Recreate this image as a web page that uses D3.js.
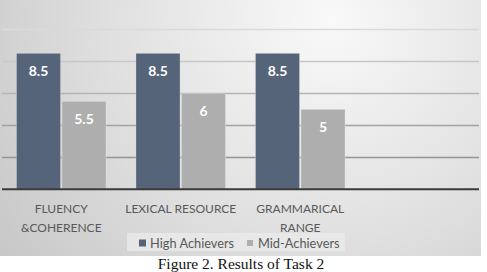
<!DOCTYPE html>
<html><head><meta charset="utf-8">
<script src="https://cdn.jsdelivr.net/npm/d3@7"></script>
<style>html,body{margin:0;padding:0;background:#fff;}svg{display:block;}</style>
</head><body>
<script>
const categories = [["FLUENCY", "&COHERENCE"], ["LEXICAL RESOURCE"], ["GRAMMARICAL", "RANGE"]];
const seriesNames = ["High Achievers", "Mid-Achievers"];
const highAchievers = [8.5, 8.5, 8.5];
const midAchievers = [5.5, 6, 5];
const yTicks = [0, 2, 4, 6, 8, 10, 12];
const caption = "Figure 2. Results of Task 2";

const W = 487, H = 272;
const colors = {"High Achievers": "#56647a", "Mid-Achievers": "#aeaeae"};
const svg = d3.select("body").append("svg").attr("width", W).attr("height", H);
const defs = svg.append("defs");
const rg = defs.append("radialGradient").attr("id", "bg")
  .attr("gradientUnits", "userSpaceOnUse").attr("cx", 330).attr("cy", 20).attr("r", 400);
rg.append("stop").attr("offset", "0").attr("stop-color", "#f9f9f9");
rg.append("stop").attr("offset", "0.55").attr("stop-color", "#e0e0e0");
rg.append("stop").attr("offset", "1").attr("stop-color", "#c8c8c8");
const lg = defs.append("linearGradient").attr("id", "grid")
  .attr("gradientUnits", "userSpaceOnUse").attr("x1", 0).attr("y1", 0).attr("x2", 0).attr("y2", 189);
lg.append("stop").attr("offset", "0").attr("stop-color", "#ebebeb");
lg.append("stop").attr("offset", "0.6").attr("stop-color", "#a8a8a8");
lg.append("stop").attr("offset", "1").attr("stop-color", "#858585");

svg.append("rect").attr("x", 0).attr("y", 0).attr("width", 481).attr("height", 256).attr("fill", "url(#bg)");

const labels = categories.map(c => c.join(" "));
const x = d3.scaleBand().domain(labels).range([1.5, 360]).paddingInner(0.25).paddingOuter(0.125);
const xs = d3.scaleBand().domain(seriesNames).range([0, x.bandwidth()]).paddingInner(0.03);
const y = d3.scaleLinear().domain([0, 12]).range([189.3, -2.7]);

// gridlines
svg.append("g").selectAll("line").data(yTicks.filter(t => t > 0)).join("line")
  .attr("x1", 2).attr("x2", 479)
  .attr("y1", d => Math.round(y(d)) + 0.5).attr("y2", d => Math.round(y(d)) + 0.5)
  .attr("stroke", "url(#grid)").attr("stroke-width", 1.3);

const rows = labels.map((l, i) => ({cat: l, vals: [
  {s: seriesNames[0], v: highAchievers[i]}, {s: seriesNames[1], v: midAchievers[i]}]}));

const g = svg.append("g").selectAll("g").data(rows).join("g")
  .attr("transform", d => `translate(${x(d.cat)},0)`);
g.selectAll("rect").data(d => d.vals).join("rect")
  .attr("x", d => xs(d.s)).attr("width", xs.bandwidth())
  .attr("y", d => y(d.v)).attr("height", d => y(0) - y(d.v))
  .attr("fill", d => colors[d.s]).attr("stroke", "rgba(255,255,255,0.35)").attr("stroke-width", 0.8);
g.selectAll("text").data(d => d.vals).join("text")
  .attr("x", d => xs(d.s) + xs.bandwidth() / 2).attr("y", d => y(d.v) + 23)
  .attr("text-anchor", "middle").attr("fill", "#fff")
  .attr("font-family", "Lato, 'Open Sans', sans-serif").attr("font-weight", "bold").attr("font-size", 14)
  .text(d => d.v);

// baseline
svg.append("line").attr("x1", 2).attr("x2", 479).attr("y1", y(0)).attr("y2", y(0))
  .attr("stroke", "#3a3a3a").attr("stroke-width", 2);

// category labels
const xa = svg.append("g");
categories.forEach((lines, i) => {
  const t = xa.append("text").attr("text-anchor", "middle")
    .attr("font-family", "Lato, 'Open Sans', sans-serif").attr("font-size", 12).attr("fill", "#595959")
    .attr("x", x(labels[i]) + x.bandwidth() / 2).attr("y", 213);
  lines.forEach((ln, j) => t.append("tspan").attr("x", x(labels[i]) + x.bandwidth() / 2)
    .attr("dy", j === 0 ? 0 : 19).text(ln));
});

// legend
const leg = svg.append("g");
leg.append("rect").attr("x", 127).attr("y", 233).attr("width", 218).attr("height", 18)
  .attr("fill", "#eaeaea").attr("opacity", 0.8);
const legItems = [{s: seriesNames[0], x: 139, sq: 7}, {s: seriesNames[1], x: 247, sq: 6}];
legItems.forEach(it => {
  leg.append("rect").attr("x", it.x).attr("y", 243 - it.sq / 2).attr("width", it.sq).attr("height", it.sq)
    .attr("fill", colors[it.s]);
  leg.append("text").attr("x", it.x + 11).attr("y", 248)
    .attr("font-family", "Lato, 'Open Sans', sans-serif").attr("font-size", 12.8).attr("fill", "#595959")
    .text(it.s);
});

// caption
svg.append("text").attr("x", 241).attr("y", 269).attr("text-anchor", "middle")
  .attr("font-family", "'Liberation Serif', 'Times New Roman', serif").attr("font-size", 15.5).attr("fill", "#111")
  .text(caption);
</script>
</body></html>
